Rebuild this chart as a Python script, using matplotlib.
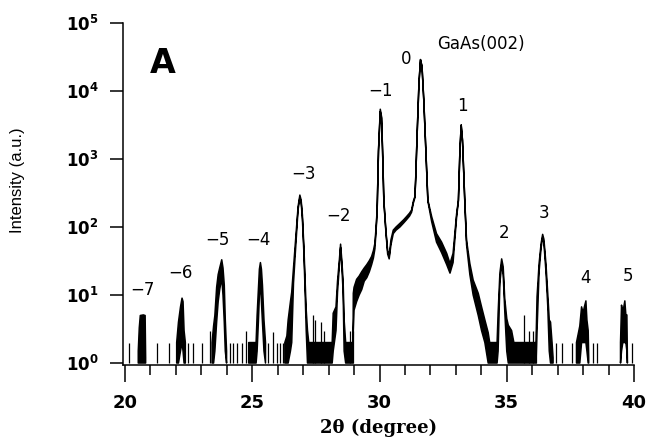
import numpy as np
import matplotlib
matplotlib.use('Agg')
import matplotlib.pyplot as plt

nan = np.nan

# XRD trace: 2theta, upper and lower edge of the noisy band
# (NaN breaks the trace where the counts drop to zero)
two_theta = [20.52, 20.56, 20.60, 20.72, 20.79, 20.81, nan,
             22.03, 22.10, 22.18, 22.24, 22.28, 22.32, 22.37, nan,
             23.42, 23.48, 23.53, 23.60, 23.66, 23.72, 23.80, 23.85, 23.90, 23.94, 23.99, nan,
             24.86, 25.15, 25.19, 25.24, 25.28, 25.32, 25.36, 25.40, 25.46, 25.52, nan,
             26.28, 26.36, 26.41, 26.50, 26.55, 26.62, 26.68, 26.74, 26.80, 26.87, 26.92,
             26.97, 27.03, 27.08, 27.12, 27.17, 27.22, 28.14, 28.18, 28.29, 28.35, 28.42,
             28.47, 28.52, 28.57, 28.61, 28.67, 28.96, 28.97, 29.00, 29.10, 29.20, 29.30,
             29.40, 29.50, 29.60, 29.69, 29.76, 29.82, 29.88, 29.91, 29.96, 30.03, 30.08,
             30.12, 30.17, 30.25, 30.32, 30.38, 30.45, 30.54, 30.65, 30.80, 30.95, 31.06,
             31.18, 31.26, 31.33, 31.39, 31.42, 31.48, 31.55, 31.61, 31.67, 31.74, 31.82,
             31.90, 32.05, 32.24, 32.44, 32.64, 32.77, 32.89, 33.03, 33.10, 33.16, 33.21,
             33.26, 33.31, 33.35, 33.42, 33.55, 33.68, 33.88, 34.01, 34.14, 34.27, 34.33,
             34.62, 34.66, 34.73, 34.80, 34.86, 34.92, 35.00, 35.06, 35.19, 35.28, 36.15,
             36.19, 36.27, 36.35, 36.41, 36.46, 36.54, 36.61, 36.67, 36.72, 36.78, 36.82, nan,
             37.74, 37.87, 37.94, 38.00, 38.05, 38.11, 38.15, 38.20, 38.22, nan,
             39.47, 39.51, 39.56, 39.64, 39.68, 39.72, 39.74, nan]
i_upper = [1.5, 3.3, 5.0, 5.1, 5.0, 1.2, nan,
           2, 4, 6.7, 9, 8, 3, 2, nan,
           2, 3.5, 5, 13, 20, 25, 33, 25, 14, 4.3, 1.5, nan,
           2, 2, 5, 12, 24, 30, 24, 14, 4.3, 2, nan,
           2, 2.5, 4.3, 8, 11, 25, 50, 100, 200, 295, 250,
           150, 50, 15, 6, 3, 2, 2, 5.4, 6.7, 16, 32,
           56, 32, 16, 4.3, 2, 2, 10.6, 13, 17, 19, 22,
           25, 28, 32, 37, 45, 58, 120, 200, 1360, 5400, 4200,
           1360, 250, 90, 45, 37.5, 65, 90, 100, 113, 128, 142,
           160, 178, 240, 280, 500, 2400, 13000, 29000, 23000, 7300, 1360,
           250, 142, 80, 60, 41, 29, 41, 158, 249, 1360, 3160,
           1900, 620, 249, 64, 29, 16.6, 10.6, 6.7, 4.3, 2.8, 2,
           2, 5.4, 21, 34, 26, 9, 4.5, 3.6, 3, 2, 2,
           9.4, 29, 57.6, 78, 66, 29, 10.6, 4.3, 4, 2, 1.2, nan,
           2, 3.5, 6.7, 5.5, 6.7, 8.2, 4.3, 3, 1.2, nan,
           2, 7.1, 5.5, 8.2, 5.1, 5.1, 1.2, nan]
i_lower = [1, 1, 1, 1, 1, 1, nan,
           1, 1, 1.5, 2, 1.5, 1, 1, nan,
           1, 1, 1.5, 4, 8, 12, 18, 10, 4, 1.5, 1, nan,
           1, 1, 1.5, 4, 10, 15, 8, 4, 1.5, 1, nan,
           1, 1, 1, 1.5, 2, 15, 35, 80, 180, 270, 230,
           130, 40, 10, 3, 1, 1, 1, 1.5, 3, 11, 26,
           50, 26, 11, 1.5, 1, 1, 3, 6, 8, 10, 12,
           16, 18, 22, 28, 35, 48, 110, 190, 1300, 5000, 4000,
           1300, 240, 85, 40, 34, 55, 80, 90, 100, 115, 128,
           145, 165, 225, 270, 490, 2400, 13000, 29000, 23000, 7300, 1360,
           240, 120, 60, 42, 28, 21, 30, 140, 240, 1360, 3160,
           1900, 620, 240, 55, 20, 10, 5, 3, 2, 1, 1,
           1, 1.5, 15, 28, 20, 6, 1.5, 1, 1, 1, 1,
           3, 22, 50, 70, 58, 22, 7, 1.5, 1, 1, 1, nan,
           1, 1, 2, 2, 2, 2, 1.5, 1, 1, nan,
           1, 1.5, 2, 2, 2, 1.5, 1, nan]

# single-count spikes standing off the noise floor
spike_x = [20.15, 21.25, 21.74, 22.49, 22.66, 23.02, 23.34, 24.12, 24.25, 24.41,
           24.58, 24.74, 25.63, 25.83, 25.96, 26.09, 26.19, 27.37, 27.46, 27.69,
           27.82, 28.84, 28.94, 35.67, 35.88, 36.04, 36.14, 36.93, 37.19, 37.58,
           38.37, 38.53, 39.92]
spike_top = [2, 2, 2, 2, 2, 2, 3, 2, 2, 2,
             2, 3, 2, 2.9, 2, 2, 2, 5.1, 4.3, 4,
             3, 3, 3, 5.1, 3, 3, 3, 2, 2, 2,
             2, 2, 2]

# satellite order labels
order_labels = ['\u22127', '\u22126', '\u22125', '\u22124', '\u22123', '\u22122', '\u22121',
                '0', '1', '2', '3', '4', '5']
label_x = [20.67, 22.16, 23.65, 25.26, 27.03, 28.37, 30.05, 31.04, 33.24, 34.89, 36.46, 38.11, 39.76]
label_y = [11.8, 21, 64, 64, 600, 146, 10000, 29600, 6000, 81, 162, 17.8, 19]

y_ticks = [1, 10, 100, 1000, 10000, 100000]
x_ticks = [20, 25, 30, 35, 40]

fig = plt.figure(figsize=(6.48, 4.41), dpi=100)
ax = fig.add_axes([0.1898, 0.1723, 0.9784 - 0.1898, 0.9478 - 0.1723])
ax.set_yscale('log')

ax.fill_between(two_theta, i_lower, i_upper, facecolor='black', edgecolor='black', linewidth=1.1)
ax.vlines(spike_x, 1, spike_top, color='black', linewidth=0.9)

for lab, lx, ly in zip(order_labels, label_x, label_y):
    ax.text(lx, ly, lab, ha='center', va='center', fontsize=12, family='DejaVu Sans')
ax.text(32.25, 49000, 'GaAs(002)', ha='left', va='center', fontsize=12, family='DejaVu Sans')
ax.text(20.98, 25000, 'A', ha='left', va='center', fontsize=24, fontweight='heavy')

ax.set_xlim(19.92, 40)
ax.set_ylim(0.935, 1e5)
ax.spines['top'].set_visible(False)
ax.spines['right'].set_visible(False)
for s in ('left', 'bottom'):
    ax.spines[s].set_linewidth(1.1)

plt.rcParams['mathtext.fontset'] = 'dejavusans'
ax.set_yticks(y_ticks)
ax.set_yticklabels([r'$\mathbf{10^{%d}}$' % int(np.log10(v)) for v in y_ticks])
ax.yaxis.set_minor_locator(matplotlib.ticker.NullLocator())
ax.set_xticks(x_ticks)
ax.set_xticklabels([str(v) for v in x_ticks])
ax.xaxis.set_minor_locator(matplotlib.ticker.MultipleLocator(1))
ax.tick_params(axis='y', which='major', direction='out', length=9.5, width=1.1, pad=8, labelsize=12)
ax.tick_params(axis='x', which='major', direction='out', length=12, width=1.1, pad=9, labelsize=13)
ax.tick_params(axis='x', which='minor', direction='out', length=7, width=1.1)
for t in ax.get_xticklabels():
    t.set_fontweight('bold')

ax.set_ylabel('Intensity (a.u.)', fontsize=12, family='Liberation Sans')
ax.yaxis.set_label_coords(-0.192, 0.541)
ax.set_xlabel('2\u03b8 (degree)', fontsize=13, fontweight='bold', family='DejaVu Serif', labelpad=5)

fig.savefig('out.png', dpi=100)
